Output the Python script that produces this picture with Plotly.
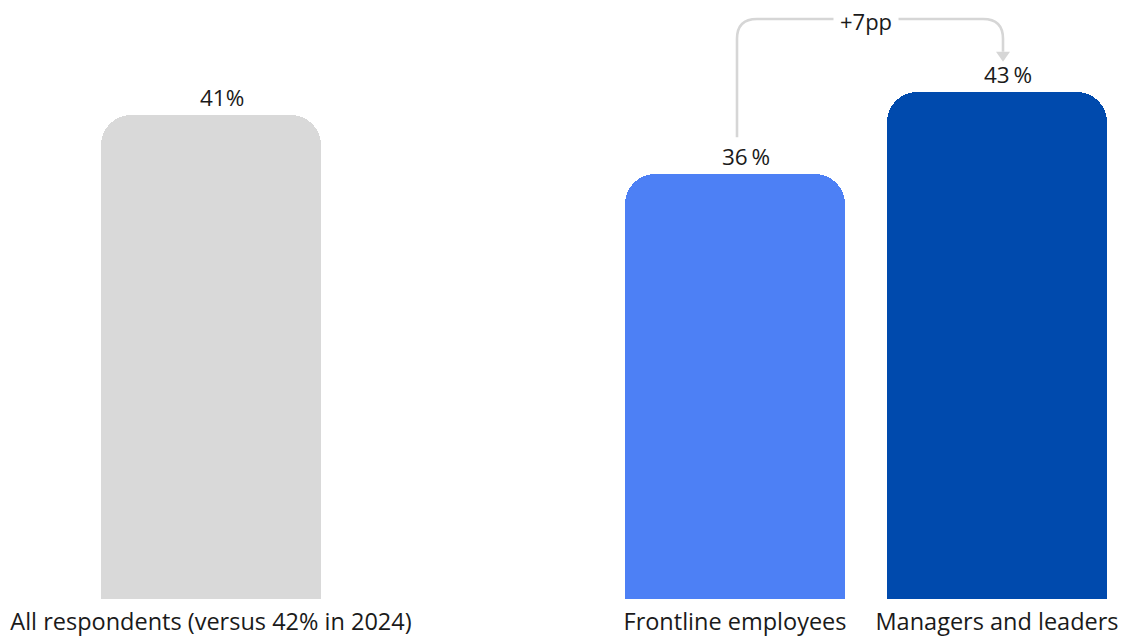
import plotly.graph_objects as go

# ---- data ----
categories = ["All respondents (versus 42% in 2024)", "Frontline employees", "Managers and leaders"]
positions = [0, 2, 3]
values = [41, 36, 43]
labels = ["41%", "36\u2009%", "43\u2009%"]
colors = ["#D9D9D9", "#4D80F5", "#004AAD"]
delta_label = "+7pp"

W, H = 1126, 637
PLOT_H = 601
PX_PER_UNIT_X = 262.0
X0_PX = 211.0
r0 = -X0_PX / PX_PER_UNIT_X
r1 = r0 + W / PX_PER_UNIT_X
YMAX = 50.76


def xd(px):
    return r0 + px / PX_PER_UNIT_X


def yd(py):
    return (PLOT_H - py) / PLOT_H * YMAX


def xp(x):
    return (x - r0) * PX_PER_UNIT_X


def yp(y):
    return PLOT_H - y / YMAX * PLOT_H


fig = go.Figure()
fig.add_trace(go.Bar(
    x=positions, y=values, width=0.836,
    marker=dict(color=colors, line=dict(width=0)),
    hoverinfo="skip",
))

for xv, yv, lab in zip(positions, values, labels):
    fig.add_annotation(x=xv, y=yv, xref="x", yref="y", text=lab, showarrow=False,
                       xanchor="center", yanchor="bottom", xshift=11, yshift=0,
                       font=dict(family="Open Sans", size=22.5, color="#1A1A1A"))

# connector from Frontline to Managers
lc = "#D6D6D6"
x_left = xp(positions[1]) + 2
x_right = xp(positions[2]) + 6
y_start = yp(values[1]) - 37
y_top = 19
y_tip = yp(values[2]) - 30
rad = 20
ah_h, ah_w = 10, 7
pts = [
    f"M {xd(x_left)},{yd(y_start)}",
    f"L {xd(x_left)},{yd(y_top + rad)}",
    f"Q {xd(x_left)},{yd(y_top)} {xd(x_left + rad)},{yd(y_top)}",
    f"L {xd(x_right - rad)},{yd(y_top)}",
    f"Q {xd(x_right)},{yd(y_top)} {xd(x_right)},{yd(y_top + rad)}",
    f"L {xd(x_right)},{yd(y_tip - ah_h)}",
]
fig.add_shape(type="path", path=" ".join(pts), xref="x", yref="y",
              line=dict(color=lc, width=2.6), layer="above")
tri = (f"M {xd(x_right - ah_w)},{yd(y_tip - ah_h)} L {xd(x_right + ah_w)},{yd(y_tip - ah_h)} "
       f"L {xd(x_right)},{yd(y_tip)} Z")
fig.add_shape(type="path", path=tri, xref="x", yref="y",
              line=dict(color=lc, width=0), fillcolor=lc, layer="above")
fig.add_annotation(x=xd(865.5), y=yd(y_top + 2), xref="x", yref="y", text=delta_label,
                   showarrow=False, bgcolor="white", borderpad=6,
                   font=dict(family="Open Sans", size=22, color="#1A1A1A"),
                   xanchor="center", yanchor="middle")

fig.update_layout(
    width=W, height=H,
    margin=dict(l=0, r=0, t=0, b=H - PLOT_H),
    paper_bgcolor="white", plot_bgcolor="white",
    showlegend=False, bargap=0,
    xaxis=dict(range=[r0, r1], tickvals=positions, ticktext=categories,
               showgrid=False, zeroline=False, showline=False, ticks="",
               ticklabelstandoff=6,
               tickfont=dict(family="Open Sans", size=23.5, color="#1A1A1A")),
    yaxis=dict(range=[0, YMAX], visible=False, showgrid=False, zeroline=False),
    barcornerradius=30,
)

fig.write_html("out.html")
